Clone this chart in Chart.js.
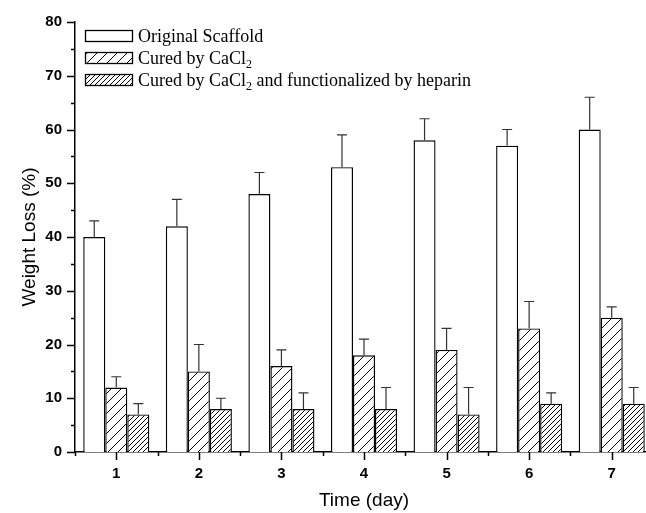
<!DOCTYPE html>
<html>
<head>
<meta charset="utf-8">
<script src="https://cdn.jsdelivr.net/npm/chart.js@4.4.1/dist/chart.umd.min.js"></script>
<style>
  html, body { margin: 0; padding: 0; background: #fff; overflow: hidden; }
</style>
</head>
<body>
<canvas id="lossChart" width="660" height="513"></canvas>
<script>
const days = ["1", "2", "3", "4", "5", "6", "7"];

const original = [40, 42, 48, 53, 58, 57, 60];
const originalErr = [3, 5, 4, 6, 4, 3, 6];

const cured = [12, 15, 16, 18, 19, 23, 25];
const curedErr = [2, 5, 3, 3, 4, 5, 2];

const heparin = [7, 8, 8, 8, 7, 9, 9];
const heparinErr = [2, 2, 3, 4, 5, 2, 3];

const yTicks = [0, 10, 20, 30, 40, 50, 60, 70, 80];

const SANS = '"Liberation Sans", Arial, sans-serif';
const SERIF = '"Liberation Serif", "Times New Roman", serif';

// diagonal "/" hatch, tile size sets the line spacing
function hatch(size) {
  const c = document.createElement("canvas");
  c.width = size;
  c.height = size;
  const g = c.getContext("2d");
  g.fillStyle = "#fff";
  g.fillRect(0, 0, size, size);
  g.strokeStyle = "#000";
  g.lineWidth = 1;
  g.beginPath();
  g.moveTo(-1, 1);
  g.lineTo(1, -1);
  g.moveTo(0, size);
  g.lineTo(size, 0);
  g.moveTo(size - 1, size + 1);
  g.lineTo(size + 1, size - 1);
  g.stroke();
  return g.createPattern(c, "repeat");
}

const sparse = hatch(10);
const dense = hatch(5);

const series = [
  { label: ["Original Scaffold"], data: original, err: originalErr, fill: "#fff" },
  { label: ["Cured by CaCl", "2"], data: cured, err: curedErr, fill: sparse },
  { label: ["Cured by CaCl", "2", " and functionalized by heparin"], data: heparin, err: heparinErr, fill: dense },
];

// upper error bars with a cap
const errorBars = {
  id: "errorBars",
  afterDatasetsDraw(chart) {
    const ctx = chart.ctx;
    const y = chart.scales.y;
    ctx.save();
    ctx.strokeStyle = "#333";
    ctx.lineWidth = 1.2;
    chart.data.datasets.forEach((ds, i) => {
      const meta = chart.getDatasetMeta(i);
      meta.data.forEach((bar, j) => {
        const top = y.getPixelForValue(ds.data[j] + ds.err[j]);
        const base = y.getPixelForValue(ds.data[j]);
        ctx.beginPath();
        ctx.moveTo(bar.x, base);
        ctx.lineTo(bar.x, top);
        ctx.moveTo(bar.x - 5, top);
        ctx.lineTo(bar.x + 5, top);
        ctx.stroke();
      });
    });
    ctx.restore();
  },
};

// outward major and minor tick marks on both axes
const axisTicks = {
  id: "axisTicks",
  afterDraw(chart) {
    const ctx = chart.ctx;
    const { x, y } = chart.scales;
    const area = chart.chartArea;
    ctx.save();
    ctx.strokeStyle = "#000";
    ctx.lineWidth = 1.5;
    ctx.beginPath();
    for (let v = 0; v <= 80; v += 5) {
      const py = Math.round(y.getPixelForValue(v)) + 0.5;
      const len = v % 10 === 0 ? 8 : 4;
      ctx.moveTo(area.left, py);
      ctx.lineTo(area.left - len, py);
    }
    const step = x.getPixelForValue(1) - x.getPixelForValue(0);
    days.forEach((d, i) => {
      const px = Math.round(x.getPixelForValue(i)) + 0.5;
      ctx.moveTo(px, area.bottom);
      ctx.lineTo(px, area.bottom + 8);
      const mx = Math.round(x.getPixelForValue(i) - step / 2) + 0.5;
      ctx.moveTo(mx, area.bottom);
      ctx.lineTo(mx, area.bottom + 4);
    });
    ctx.stroke();
    ctx.restore();
  },
};

// legend with subscripted formula text
const formulaLegend = {
  id: "formulaLegend",
  afterDraw(chart) {
    const ctx = chart.ctx;
    ctx.save();
    series.forEach((s, i) => {
      const top = 30 + i * 22;
      ctx.fillStyle = s.fill;
      ctx.fillRect(85, top, 48, 12);
      ctx.strokeStyle = "#000";
      ctx.lineWidth = 1.3;
      ctx.strokeRect(85.5, top + 0.5, 47, 11);
      let tx = 138;
      const base = top + 12;
      ctx.fillStyle = "#000";
      ctx.textBaseline = "alphabetic";
      s.label.forEach((part, k) => {
        const sub = k === 1;
        ctx.font = (sub ? "12px " : "18px ") + SERIF;
        ctx.fillText(part, tx, sub ? base + 4 : base);
        tx += ctx.measureText(part).width;
      });
    });
    ctx.restore();
  },
};

new Chart(document.getElementById("lossChart"), {
  type: "bar",
  data: {
    labels: days,
    datasets: series.map((s) => ({
      label: s.label.join(""),
      data: s.data,
      err: s.err,
      backgroundColor: s.fill,
      borderColor: "#000",
      borderWidth: 1.4,
      categoryPercentage: 0.8,
      barPercentage: 1,
    })),
  },
  options: {
    responsive: false,
    animation: false,
    layout: { padding: { top: 22, right: 7, left: 0, bottom: 0 } },
    plugins: {
      legend: { display: false },
      tooltip: { enabled: false },
    },
    scales: {
      x: {
        afterFit: (scale) => { scale.height = 61; },
        grid: { display: false, drawTicks: false },
        border: { display: true, color: "#000", width: 1.5 },
        ticks: {
          color: "#000",
          padding: 13,
          font: { family: SANS, size: 15, weight: "bold" },
        },
        title: {
          display: true,
          text: "Time (day)",
          color: "#000",
          padding: { top: 0, bottom: 1 },
          font: { family: SANS, size: 19 },
        },
      },
      y: {
        min: 0,
        max: 80,
        afterFit: (scale) => { scale.width = 75; },
        afterBuildTicks: (scale) => {
          scale.ticks = yTicks.map((v) => ({ value: v }));
        },
        grid: { display: false, drawTicks: false },
        border: { display: true, color: "#000", width: 1.5 },
        ticks: {
          color: "#000",
          padding: 13,
          font: { family: SANS, size: 15, weight: "bold" },
        },
        title: {
          display: true,
          text: "Weight Loss (%)",
          color: "#000",
          padding: { top: 18, bottom: 0 },
          font: { family: SANS, size: 19 },
        },
      },
    },
  },
  plugins: [errorBars, axisTicks, formulaLegend],
});
</script>
</body>
</html>
